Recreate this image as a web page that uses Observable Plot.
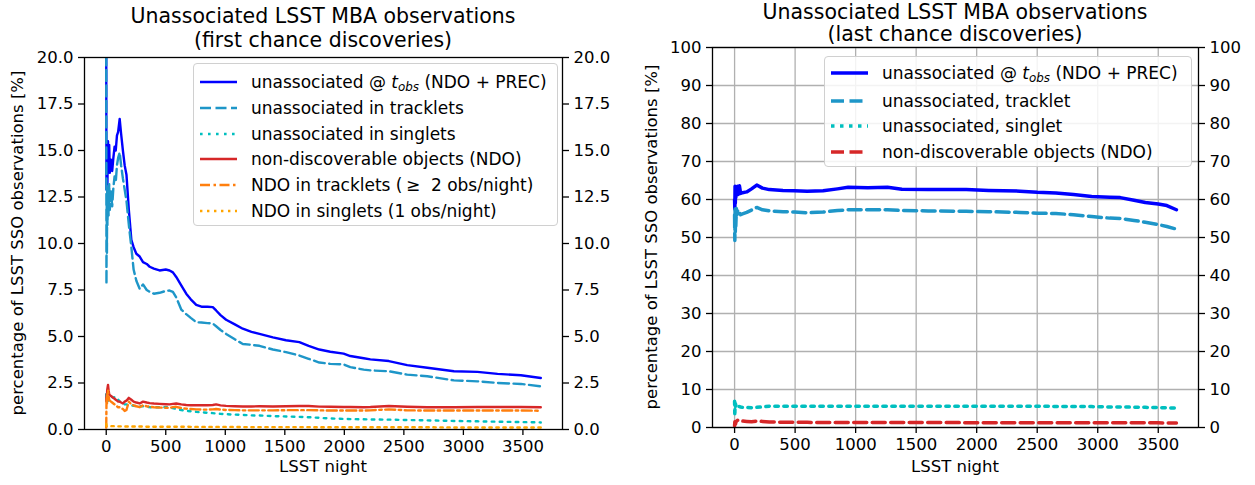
<!DOCTYPE html>
<html>
<head>
<meta charset="utf-8">
<script src="https://cdn.jsdelivr.net/npm/d3@7"></script>
<script src="https://cdn.jsdelivr.net/npm/@observablehq/plot@0.6"></script>
<style>
  body { margin:0; background:#fff; font-family:"DejaVu Sans", sans-serif; color:#000; }
  #root { position:relative; width:1255px; height:485px; overflow:hidden; }
  .abs { position:absolute; }
  .title { font-size:20.5px; line-height:24px; text-align:center; white-space:nowrap; }
  .xlab { font-size:16.5px; line-height:20px; text-align:center; white-space:nowrap; }
  .ylab { font-size:16.5px; line-height:20px; white-space:nowrap; transform:translate(-50%,-50%) rotate(-90deg); }
  .legend { position:absolute; border:1px solid #d0d0d0; border-radius:4px; background:rgba(255,255,255,0.85); box-sizing:border-box; }
  .entry { position:absolute; left:5px; height:22px; display:flex; align-items:center; font-size:17px; white-space:nowrap; }
  .entry svg { flex:none; margin-right:13px; }
  sub { font-size:0.7em; vertical-align:-0.25em; line-height:0; }
</style>
</head>
<body>
<div id="root"></div>
<script>
// ---------- data: left panel (first chance discoveries) ----------
const leftNights = [0, 2, 4, 6, 8, 10, 15, 20, 25, 30, 40, 50, 60, 70, 80, 90, 100, 113, 125, 140, 155, 170, 190, 211, 230, 253, 281, 309, 340, 365, 400, 448, 500, 532, 560, 588, 630, 672, 710, 756, 800, 850, 895, 923, 960, 1007, 1080, 1147, 1220, 1287, 1400, 1510, 1622, 1700, 1790, 1882, 1994, 2050, 2163, 2219, 2374, 2528, 2697, 2921, 3118, 3287, 3483, 3650];
const firstUnassocTotal = [21, 12.9, 15.2, 13.5, 14.8, 13.2, 15.5, 14.0, 15.3, 13.8, 14.5, 13.9, 14.6, 15.2, 15.0, 15.8, 16.0, 16.7, 15.9, 15.0, 14.2, 13.7, 11.8, 10.2, 9.8, 9.45, 9.3, 9.0, 8.9, 8.75, 8.65, 8.55, 8.6, 8.55, 8.45, 8.2, 7.75, 7.3, 7.0, 6.7, 6.6, 6.6, 6.58, 6.4, 6.15, 5.9, 5.65, 5.42, 5.25, 5.14, 4.95, 4.8, 4.7, 4.5, 4.3, 4.18, 4.08, 3.95, 3.83, 3.77, 3.68, 3.46, 3.32, 3.13, 3.1, 2.99, 2.92, 2.77];
const firstUnassocTracklets = [21, 7.8, 12.5, 9.5, 13.0, 11.0, 12.5, 11.5, 13.2, 11.8, 12.8, 12.0, 13.0, 13.6, 13.3, 14.2, 14.6, 14.9, 14.2, 13.5, 12.9, 12.3, 11.0, 9.8, 8.6, 8.0, 7.56, 7.8, 7.5, 7.4, 7.3, 7.35, 7.45, 7.47, 7.4, 7.1, 6.45, 6.2, 6.0, 5.77, 5.75, 5.72, 5.7, 5.55, 5.35, 5.14, 4.85, 4.6, 4.55, 4.5, 4.3, 4.16, 3.98, 3.8, 3.6, 3.53, 3.5, 3.35, 3.22, 3.18, 3.13, 2.95, 2.86, 2.64, 2.59, 2.5, 2.45, 2.32];
const firstUnassocSinglets = [1.9, 1.5, 1.7, 1.55, 1.65, 1.6, 1.55, 1.6, 1.65, 1.7, 1.75, 1.75, 1.7, 1.75, 1.7, 1.6, 1.6, 1.5, 1.45, 1.4, 1.35, 1.35, 1.3, 1.3, 1.28, 1.25, 1.25, 1.25, 1.22, 1.2, 1.2, 1.2, 1.2, 1.18, 1.15, 1.1, 1.05, 1.0, 0.98, 0.95, 0.92, 0.9, 0.88, 0.86, 0.84, 0.82, 0.8, 0.78, 0.76, 0.75, 0.72, 0.7, 0.68, 0.66, 0.63, 0.59, 0.57, 0.56, 0.55, 0.54, 0.53, 0.51, 0.49, 0.46, 0.44, 0.42, 0.4, 0.38];
const firstNDO = [1.7, 1.5, 1.9, 1.6, 2.1, 2.2, 2.4, 2.1, 1.9, 1.85, 1.8, 1.75, 1.7, 1.65, 1.6, 1.55, 1.5, 1.5, 1.45, 1.4, 1.5, 1.55, 1.7, 1.6, 1.5, 1.45, 1.4, 1.5, 1.45, 1.42, 1.4, 1.38, 1.36, 1.35, 1.38, 1.4, 1.35, 1.32, 1.3, 1.3, 1.3, 1.3, 1.32, 1.35, 1.3, 1.27, 1.25, 1.24, 1.24, 1.25, 1.24, 1.25, 1.26, 1.26, 1.23, 1.22, 1.21, 1.21, 1.2, 1.21, 1.26, 1.22, 1.2, 1.2, 1.21, 1.21, 1.21, 1.2];
const firstNDOTracklets = [0.1, 1.4, 1.7, 1.3, 1.8, 1.9, 2.1, 1.8, 1.6, 1.55, 1.5, 1.45, 1.4, 1.35, 1.3, 1.25, 1.2, 1.2, 1.15, 1.1, 1.0, 1.05, 1.5, 1.35, 1.3, 1.25, 1.2, 1.3, 1.25, 1.22, 1.2, 1.18, 1.17, 1.16, 1.2, 1.22, 1.15, 1.12, 1.1, 1.08, 1.07, 1.07, 1.08, 1.1, 1.07, 1.05, 1.04, 1.03, 1.03, 1.03, 1.03, 1.04, 1.04, 1.04, 1.03, 1.02, 1.02, 1.02, 1.02, 1.03, 1.08, 1.03, 1.02, 1.02, 1.02, 1.02, 1.02, 1.01];
const firstNDOSinglets = [0.3, 0.2, 0.18, 0.18, 0.18, 0.18, 0.18, 0.18, 0.18, 0.18, 0.18, 0.18, 0.18, 0.18, 0.17, 0.17, 0.17, 0.17, 0.17, 0.17, 0.16, 0.16, 0.16, 0.16, 0.16, 0.16, 0.16, 0.16, 0.15, 0.15, 0.15, 0.15, 0.15, 0.15, 0.15, 0.15, 0.15, 0.15, 0.14, 0.14, 0.14, 0.14, 0.14, 0.14, 0.14, 0.14, 0.14, 0.13, 0.13, 0.13, 0.13, 0.13, 0.13, 0.13, 0.12, 0.12, 0.12, 0.12, 0.12, 0.12, 0.12, 0.12, 0.12, 0.11, 0.11, 0.11, 0.11, 0.11];
const leftYTicks = [0, 2.5, 5, 7.5, 10, 12.5, 15, 17.5, 20];

// ---------- data: right panel (last chance discoveries) ----------
const rightNights = [0, 2, 4, 6, 8, 10, 15, 20, 25, 30, 40, 50, 65, 100, 140, 183, 230, 287, 400, 494, 600, 731, 850, 938, 1100, 1263, 1382, 1600, 1914, 2100, 2358, 2500, 2654, 2800, 2950, 3100, 3186, 3300, 3393, 3500, 3571, 3650];
const lastUnassocTotal = [60, 57.5, 63.5, 59, 63.2, 60.5, 63.0, 61.5, 63.5, 61.3, 63.6, 61.6, 61.8, 62.0, 62.8, 63.8, 63.0, 62.6, 62.4, 62.3, 62.2, 62.3, 62.8, 63.2, 63.1, 63.2, 62.7, 62.6, 62.6, 62.4, 62.2, 61.9, 61.7, 61.3, 60.8, 60.6, 60.5, 59.8, 59.2, 58.8, 58.4, 57.3];
const lastUnassocTracklet = [56, 49.2, 57.5, 51.5, 56.8, 53, 57.6, 56.0, 57.0, 56.2, 56.5, 56.0, 56.2, 56.6, 57.2, 57.9, 57.3, 57.0, 56.8, 56.7, 56.5, 56.7, 57.1, 57.3, 57.3, 57.3, 57.1, 57.0, 56.9, 56.8, 56.6, 56.4, 56.3, 56.0, 55.5, 55.1, 55.0, 54.5, 54.0, 53.4, 52.9, 52.2];
const lastUnassocSinglet = [6.9, 3.0, 6.5, 5.0, 6.2, 5.8, 6.0, 5.6, 5.7, 5.5, 5.5, 5.4, 5.3, 5.3, 5.2, 5.3, 5.4, 5.6, 5.6, 5.6, 5.6, 5.6, 5.6, 5.6, 5.6, 5.6, 5.6, 5.6, 5.6, 5.6, 5.6, 5.6, 5.55, 5.5, 5.5, 5.4, 5.4, 5.35, 5.3, 5.25, 5.2, 5.1];
const lastNDO = [0.5, 1.5, 1.0, 1.3, 0.9, 1.4, 1.6, 1.8, 1.9, 2.0, 1.9, 1.8, 1.7, 1.6, 1.5, 1.7, 1.6, 1.45, 1.4, 1.35, 1.35, 1.3, 1.3, 1.3, 1.3, 1.3, 1.3, 1.3, 1.28, 1.28, 1.27, 1.27, 1.26, 1.25, 1.25, 1.24, 1.24, 1.23, 1.22, 1.22, 1.21, 1.2];
const rightYTicks = [0, 10, 20, 30, 40, 50, 60, 70, 80, 90, 100];

const xTicks = [0, 500, 1000, 1500, 2000, 2500, 3000, 3500];

// ---------- styles (not data) ----------
const leftSeries = [
  {name: "total",  values: firstUnassocTotal,      stroke: "#0000ff", dash: null,             label: 'unassociated @ <span style="font-style:italic">t<sub>obs</sub></span> (NDO + PREC)'},
  {name: "trk",    values: firstUnassocTracklets,  stroke: "#1e96c8", dash: "11,4.5",          label: "unassociated in tracklets"},
  {name: "sgl",    values: firstUnassocSinglets,   stroke: "#00bfbf", dash: "2.6,5.4",         label: "unassociated in singlets"},
  {name: "ndo",    values: firstNDO,               stroke: "#d62728", dash: null,             label: "non-discoverable objects (NDO)"},
  {name: "ndotrk", values: firstNDOTracklets,      stroke: "#ff7f0e", dash: "10,3.5,2.5,3.5",  label: "NDO in tracklets (&thinsp;\u2265&nbsp; 2 obs/night)"},
  {name: "ndosgl", values: firstNDOSinglets,       stroke: "#ffa500", dash: "2.4,4.6",         label: "NDO in singlets (1 obs/night)"}
];
const rightSeries = [
  {name: "total", values: lastUnassocTotal,    stroke: "#0000ff", dash: null,      label: 'unassociated @ <span style="font-style:italic">t<sub>obs</sub></span> (NDO + PREC)'},
  {name: "trk",   values: lastUnassocTracklet, stroke: "#1e96c8", dash: "13,5.5",  label: "unassociated, tracklet"},
  {name: "sgl",   values: lastUnassocSinglet,  stroke: "#00bfbf", dash: "3.5,5.5", label: "unassociated, singlet"},
  {name: "ndo",   values: lastNDO,             stroke: "#d62728", dash: "13,5.5",  label: "non-discoverable objects (NDO)"}
];

const root = document.getElementById("root");
const fmt1 = d3.format(".1f");

function addDiv(cls, html, css) {
  const d = document.createElement("div");
  d.className = cls;
  d.innerHTML = html;
  Object.assign(d.style, css);
  root.appendChild(d);
  return d;
}

function panel(opts) {
  const {left, width, frameL, frameR, frameT, frameB, nights, series, yDomain, yTicks, yFmt, lw, grid} = opts;
  const rows = series.map(s => nights.map((n, i) => ({night: n, pct: s.values[i], s: s.name})));
  const marks = [];
  if (grid) {
    marks.push(Plot.gridX(xTicks, {stroke: "#b0b0b0", strokeOpacity: 1, strokeWidth: 1.3}));
    marks.push(Plot.gridY(yTicks, {stroke: "#b0b0b0", strokeOpacity: 1, strokeWidth: 1.3}));
  }
  series.forEach((s, k) => {
    marks.push(Plot.line(rows[k], {x: "night", y: "pct", stroke: s.stroke, strokeWidth: lw,
      strokeDasharray: s.dash || undefined, strokeLinejoin: "round", clip: true}));
  });
  marks.push(Plot.frame({stroke: "#000", strokeWidth: 1.3}));
  marks.push(Plot.axisX(xTicks, {tickSize: 6, tickPadding: 5, tickFormat: d => String(d), label: null, strokeWidth: 1.3}));
  marks.push(Plot.axisY(yTicks, {anchor: "left", tickSize: 6, tickPadding: 5, tickFormat: yFmt, label: null, strokeWidth: 1.3}));
  marks.push(Plot.axisY(yTicks, {anchor: "right", tickSize: 6, tickPadding: 5, tickFormat: yFmt, label: null, strokeWidth: 1.3}));
  const svg = Plot.plot({
    width: width, height: 485,
    marginLeft: frameL - left, marginRight: left + width - frameR,
    marginTop: frameT, marginBottom: 485 - frameB,
    style: {fontSize: "16.5px", fontFamily: "DejaVu Sans", background: "transparent", color: "#000", overflow: "visible"},
    x: {domain: [-182.5, 3832.5]},
    y: {domain: yDomain},
    marks
  });
  svg.style.position = "absolute";
  svg.style.left = left + "px";
  svg.style.top = "0px";
  root.appendChild(svg);
}

function legend(box, series, lw, entryYs) {
  const lg = addDiv("legend", "", {left: box.x + "px", top: box.y + "px", width: box.w + "px", height: box.h + "px"});
  series.forEach((s, i) => {
    const e = document.createElement("div");
    e.className = "entry";
    e.style.top = (entryYs[i] - 11) + "px";
    const dash = s.dash ? `stroke-dasharray="${s.dash}"` : "";
    e.innerHTML = `<svg width="39" height="22"><line x1="1" x2="38" y1="11" y2="11" stroke="${s.stroke}" stroke-width="${lw}" ${dash}/></svg><span>${s.label}</span>`;
    lg.appendChild(e);
  });
}

// Left panel
panel({left: 0, width: 640, frameL: 84, frameR: 562, frameT: 57, frameB: 429,
  nights: leftNights, series: leftSeries, yDomain: [0, 20], yTicks: leftYTicks, yFmt: fmt1, lw: 2.4, grid: false});
addDiv("abs title", "Unassociated LSST MBA observations<br>(first chance discoveries)", {left: "84px", width: "478px", top: "4px"});
addDiv("abs xlab", "LSST night", {left: "84px", width: "478px", top: "457px"});
addDiv("abs ylab", "percentage of LSST SSO observations [%]", {left: "18px", top: "243px"});
legend({x: 193, y: 63, w: 365, h: 163}, leftSeries, 2.4, [17.5, 43.5, 69.5, 95, 121, 147]);

// Right panel
panel({left: 640, width: 615, frameL: 712, frameR: 1198, frameT: 47, frameB: 427,
  nights: rightNights, series: rightSeries, yDomain: [0, 100], yTicks: rightYTicks, yFmt: d => String(d), lw: 3.5, grid: true});
addDiv("abs title", "Unassociated LSST MBA observations<br>(last chance discoveries)", {left: "712px", width: "486px", top: "1px", lineHeight: "22px"});
addDiv("abs xlab", "LSST night", {left: "712px", width: "486px", top: "457px"});
addDiv("abs ylab", "percentage of LSST SSO observations [%]", {left: "652px", top: "237px"});
legend({x: 824, y: 56, w: 368, h: 111}, rightSeries, 3.5, [16, 43.5, 69, 94.5]);
</script>
</body>
</html>
